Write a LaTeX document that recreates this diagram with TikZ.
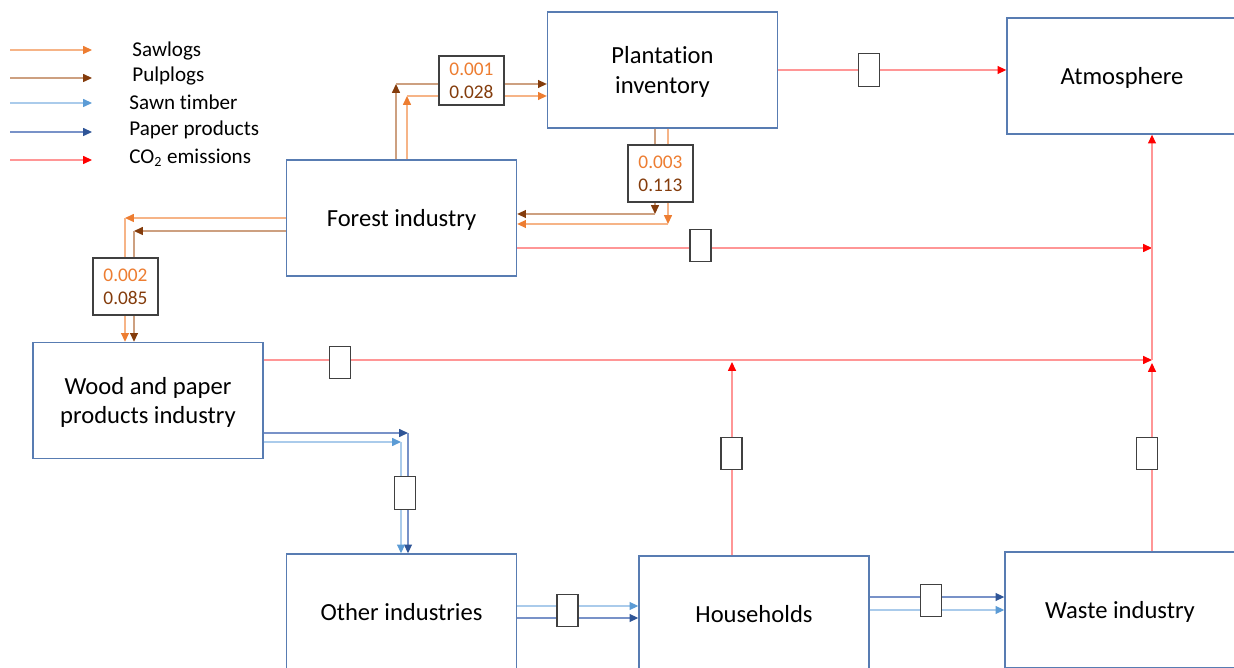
\documentclass[tikz,border=0pt]{standalone}
\usepackage{fontspec}
\setmainfont{Carlito}[Ligatures=NoCommon]
\usepackage{tikz}
\usetikzlibrary{arrows.meta}
\definecolor{boxblue}{RGB}{88,124,178}
\definecolor{sawline}{RGB}{246,180,135}
\definecolor{sawtip}{RGB}{237,125,49}
\definecolor{pulpline}{RGB}{205,160,128}
\definecolor{pulptip}{RGB}{132,60,12}
\definecolor{sawnline}{RGB}{170,203,235}
\definecolor{sawntip}{RGB}{91,155,213}
\definecolor{paperline}{RGB}{120,146,200}
\definecolor{papertip}{RGB}{47,85,151}
\definecolor{coline}{RGB}{255,150,150}

\begin{document}
\begin{tikzpicture}[x=0.02cm, y=-0.02cm,
    every node/.style={font=\fontsize{14}{17}\selectfont},
    unit/.style={draw=boxblue, line width=0.8pt, minimum width=4.6cm, minimum height=2.32cm, align=center, text depth=0pt},
    valbox/.style={draw=black!75, fill=white, line width=0.8pt, minimum width=1.3cm, align=center, inner sep=2pt, font=\fontsize{11}{13}\selectfont},
    gap/.style={draw=black!75, fill=white, line width=0.8pt, minimum width=0.42cm, minimum height=0.65cm, inner sep=0pt},
    key/.style={anchor=west, inner sep=0pt, font=\fontsize{12}{14}\selectfont},
    saw/.style={draw=sawline, line width=0.7pt, -{Triangle[color=sawtip, length=5pt, width=4.5pt]}},
    pulp/.style={draw=pulpline, line width=0.7pt, -{Triangle[color=pulptip, length=5pt, width=4.5pt]}},
    sawn/.style={draw=sawnline, line width=0.7pt, -{Triangle[color=sawntip, length=5pt, width=4.5pt]}},
    paper/.style={draw=paperline, line width=0.7pt, -{Triangle[color=papertip, length=5pt, width=4.5pt]}},
    co2/.style={draw=coline, line width=0.7pt, -{Triangle[color=red, length=5pt, width=4.5pt]}}]
    \useasboundingbox (0,0) rectangle (1234,668);
    \clip (0,0) rectangle (1234,668);

    % legend
    \node [key] (ksaw) at (132,51) {Sawlogs};
    \node [key] (kpulp) at (132,76) {Pulplogs};
    \node [key] (ksawn) at (129,102) {Sawn timber};
    \node [key] (kpaper) at (129,130) {Paper products};
    \node [key] (kco) at (129,158) {CO\textsubscript{2} emissions};
    \draw [saw] (10,50) -- (92,50);
    \draw [pulp] (10,78) -- (92,78);
    \draw [sawn] (10,103) -- (92,103);
    \draw [paper] (10,132) -- (92,132);
    \draw [co2] (10,160) -- (92,160);

    % sectors
    \node [unit] (plant) at (662.5,70) {Plantation\\inventory};
    \node [unit] (atmo) at (1122,76) {Atmosphere};
    \node [unit] (forest) at (401.5,218) {Forest industry};
    \node [unit] (wood) at (148,400.5) {Wood and paper\\products industry};
    \node [unit] (other) at (401.5,612) {Other industries};
    \node [unit] (house) at (754,614) {Households};
    \node [unit] (waste) at (1120,610) {Waste industry};

    % logs
    \coordinate (fp) at (396,84);
    \coordinate (fs) at (407,96);
    \draw [pulp] (fp |- forest.north) -- (fp);
    \draw [pulp] (fp) -- (fp -| plant.west);
    \draw [saw] (fs |- forest.north) -- (fs);
    \draw [saw] (fs) -- (fs -| plant.west);
    \coordinate (pf) at (655,214);
    \coordinate (ps) at (668,224);
    \draw [pulp] (pf |- plant.south) -- (pf);
    \draw [pulp] (pf) -- (pf -| forest.east);
    \draw [saw] (ps |- plant.south) -- (ps);
    \draw [saw] (ps) -- (ps -| forest.east);
    \coordinate (ws) at (125,218);
    \coordinate (wp) at (134,231);
    \draw [saw] (forest.west |- ws) -- (ws);
    \draw [saw] (ws) -- (ws |- wood.north);
    \draw [pulp] (forest.west |- wp) -- (wp);
    \draw [pulp] (wp) -- (wp |- wood.north);

    % products
    \coordinate (op) at (408,433);
    \coordinate (os) at (401,442);
    \draw [paper] (wood.east |- op) -- (op);
    \draw [paper] (op) -- (op |- other.north);
    \draw [sawn] (wood.east |- os) -- (os);
    \draw [sawn] (os) -- (os |- other.north);
    \draw [sawn] ([yshift=0.12cm]other.east) -- ([yshift=0.12cm]other.east -| house.west);
    \draw [paper] ([yshift=-0.12cm]other.east) -- ([yshift=-0.12cm]other.east -| house.west);
    \draw [paper] ([yshift=0.34cm]house.east) -- ([yshift=0.34cm]house.east -| waste.west);
    \draw [sawn] ([yshift=0.08cm]house.east) -- ([yshift=0.08cm]house.east -| waste.west);

    % emissions
    \coordinate (hub1) at (1152,248);
    \coordinate (hub2) at (1152,360);
    \coordinate (hh) at (732,362);
    \draw [co2] (plant.east) -- (plant.east -| atmo.west);
    \draw [co2] (forest.east |- hub1) -- (hub1);
    \draw [co2] (wood.east |- hub2) -- (hub2);
    \draw [co2] (hub2 |- waste.north) -- ([yshift=-0.06cm]hub2);
    \draw [co2] (hub2) -- (hub2 |- atmo.south);
    \draw [co2] (hh |- house.north) -- (hh);

    % flow values
    \node [valbox, minimum height=0.98cm] (v1) at (471.5,80.5) {\textcolor{sawtip}{0.001}\\\textcolor{pulptip}{0.028}};
    \node [valbox, minimum height=1.14cm] (v2) at (660.5,173.5) {\textcolor{sawtip}{0.003}\\\textcolor{pulptip}{0.113}};
    \node [valbox, minimum height=1.14cm] (v3) at (125.5,286.5) {\textcolor{sawtip}{0.002}\\\textcolor{pulptip}{0.085}};
    \node [gap] (g1) at (869,70) {};
    \node [gap] (g2) at (700.5,245.5) {};
    \node [gap] (g3) at (340,362.5) {};
    \node [gap] (g4) at (1147,453.5) {};
    \node [gap] (g5) at (731.5,453.5) {};
    \node [gap] (g6) at (405,493) {};
    \node [gap] (g7) at (567.5,610.5) {};
    \node [gap] (g8) at (931,600.5) {};
\end{tikzpicture}
\end{document}
